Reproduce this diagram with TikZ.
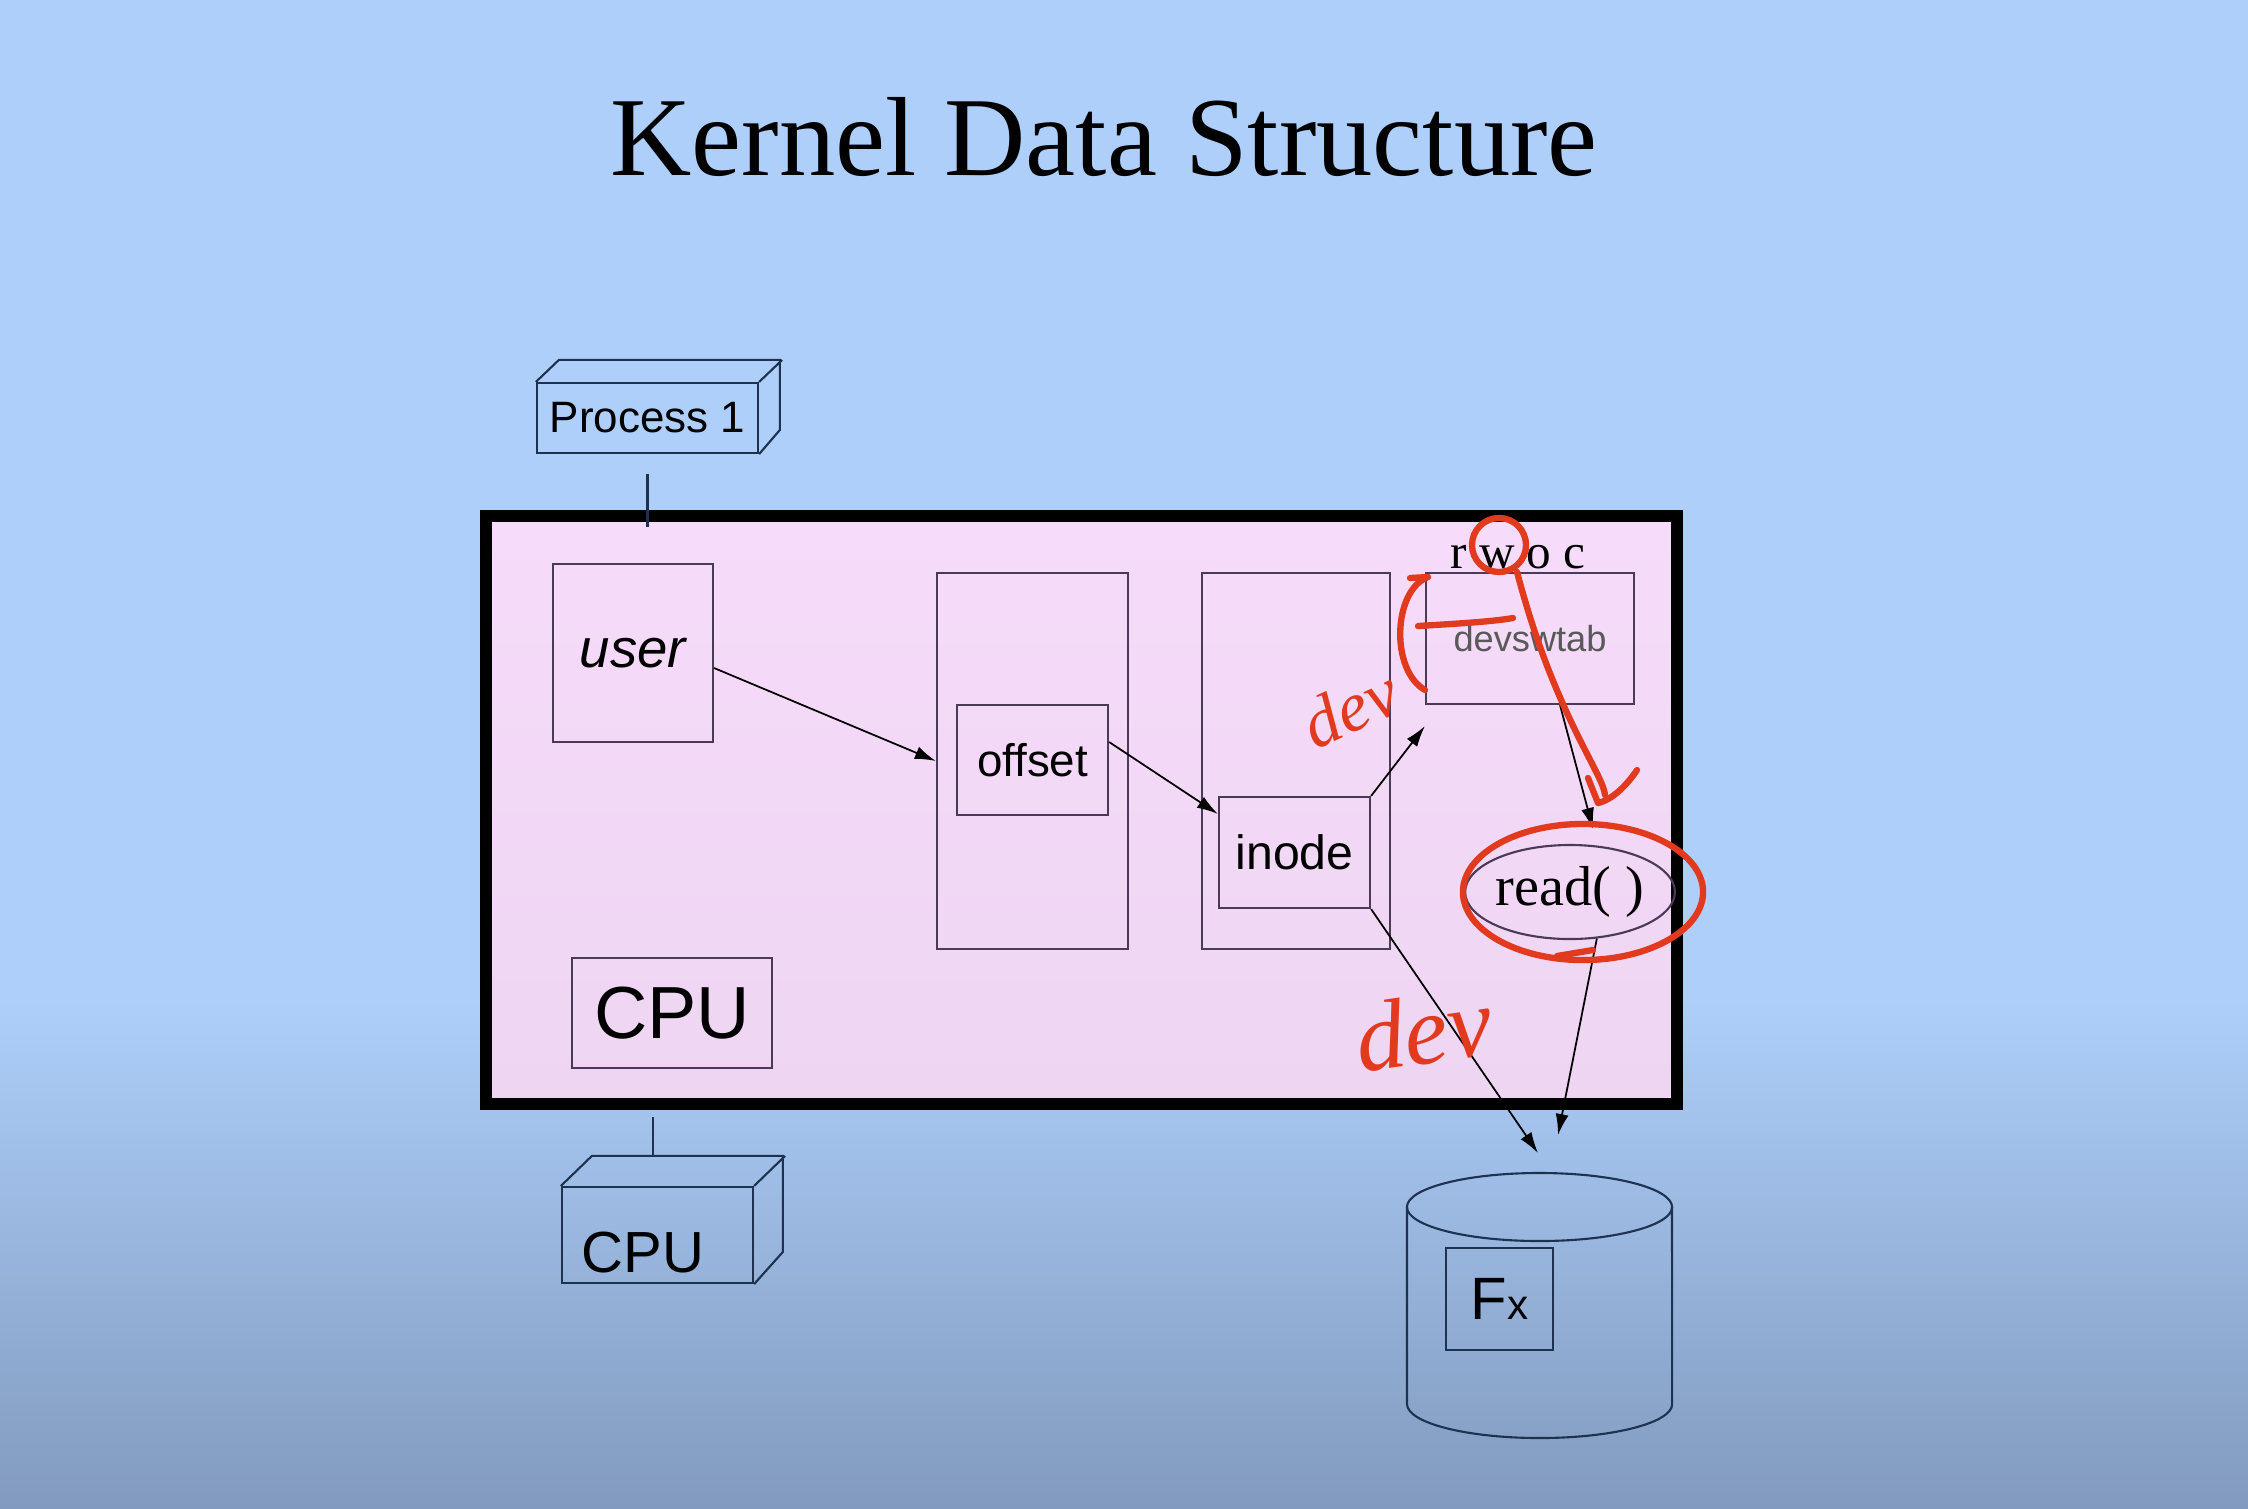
\documentclass[tikz,border=0pt]{standalone}
\usepackage{fontspec}
\setmainfont{Liberation Serif}
\setsansfont{Liberation Sans}
\usetikzlibrary{shapes,arrows.meta}

\definecolor{slidetop}{RGB}{173,207,250}
\definecolor{slidebot}{RGB}{130,154,190}
\definecolor{kernpink}{RGB}{246,220,250}
\definecolor{kernpinkdk}{RGB}{238,213,242}
\definecolor{boxline}{RGB}{72,58,88}
\definecolor{navy}{RGB}{30,50,80}
\definecolor{pen}{RGB}{226,58,30}

\tikzset{
  box/.style={draw=boxline, line width=0.6pt, rectangle, font=\sffamily},
  box3d/.style={draw=navy, line width=0.6pt, rectangle, font=\sffamily},
  link/.style={-{Latex[length=0.21cm,width=0.13cm]}, line width=0.5pt},
  ink/.style={draw=pen, line width=1.8pt, line cap=round, line join=round},
  inktext/.style={text=pen},
}

\begin{document}
\begin{tikzpicture}[x=0.01cm, y=-0.01cm]
\def \pdepth {23}
\def \cdepth {31}

\fill[slidetop] (0,0) rectangle (2248,1508);
\shade[top color=slidetop, bottom color=slidebot] (0,1000) rectangle (2248,1508);
\useasboundingbox (0,0) rectangle (2248,1508);

\node[font=\fontsize{32}{38}\selectfont, anchor=base] (title) at (1104,175) {Kernel Data Structure};

\node[draw=black, line width=0.12cm, top color=kernpink, bottom color=kernpinkdk,
  minimum width=11.905cm, minimum height=5.875cm, inner sep=0] (kernel) at (1081.75,810.25) {};

% process 1
\node[box3d, minimum width=2.21cm, minimum height=0.70cm, font=\sffamily\fontsize{12.5}{14}\selectfont] (proc) at (647.5,418) {Process 1};
\draw[navy, line width=0.6pt] (proc.north west) -- ++(\pdepth,-22) -- ++(221,0) -- ++(0,70) -- (proc.south east)
  (proc.north east) -- ++(\pdepth,-22);
\draw[navy, line width=0.6pt] ([yshift=-0.2cm]proc.south) -- ([yshift=-0.17cm]proc.south |- kernel.north);

\node[box, minimum width=1.60cm, minimum height=1.78cm, font=\sffamily\itshape\fontsize{15.5}{19}\selectfont] (user) at (633,653) {user};

\node[box, minimum width=1.91cm, minimum height=3.76cm] (filetab) at (1032.5,761) {};
\node[box, minimum width=1.51cm, minimum height=1.10cm, font=\sffamily\fontsize{13}{15}\selectfont] (offset) at (1032.5,760) {offset};
\node[box, minimum width=1.88cm, minimum height=3.76cm] (inodetab) at (1296,761) {};
\node[box, minimum width=1.51cm, minimum height=1.11cm, font=\sffamily\fontsize{13.7}{16}\selectfont] (inode) at (1294.5,852.5) {inode};
\node[box, minimum width=2.08cm, minimum height=1.31cm, font=\sffamily\fontsize{10.3}{12}\selectfont, text=black!65] (devsw) at (1530,638.5) {devswtab};
\node[font=\fontsize{14}{16}\selectfont, anchor=base] (modes) at (1518,568) {r w o c};
\node[draw=boxline, line width=0.6pt, ellipse, minimum width=2.04cm, minimum height=0.94cm, inner sep=0,
  font=\fontsize{16}{19}\selectfont] (read) at (1570,892) {read( )};

% cpu
\node[box, minimum width=2.00cm, minimum height=1.10cm, font=\sffamily\fontsize{21}{25}\selectfont] (cpu) at (672,1013) {CPU};
\node[box3d, inner xsep=0.2cm, inner ysep=0.11cm, text width=1.51cm, align=left, text height=0.74cm, text depth=0cm,
  font=\sffamily\fontsize{16.5}{19}\selectfont] (cpubox) at (657.5,1235) {CPU};
\draw[navy, line width=0.6pt] (cpubox.north west) -- ++(\cdepth,-30) -- ++(191,0) -- ++(0,96) -- (cpubox.south east)
  (cpubox.north east) -- ++(\cdepth,-30);
\draw[navy, line width=0.6pt] ([xshift=-0.045cm,yshift=-0.07cm]cpubox.north |- kernel.south) -- ([xshift=-0.045cm,yshift=0.3cm]cpubox.north);

% disk
\draw[navy, line width=0.6pt] (1407,1207) -- (1407,1404) arc[start angle=180, end angle=360, x radius=1.325cm, y radius=0.34cm] -- (1672,1207);
\draw[navy, line width=0.6pt] (1539.5,1207) ellipse [x radius=1.325cm, y radius=0.34cm];
\coordinate (disk) at (1539.5,1173);
\node[box3d, minimum width=1.07cm, minimum height=1.02cm, font=\sffamily\fontsize{17}{20}\selectfont] (fx) at (1499.5,1299) {F{\fontsize{12}{14}\selectfont x}};

\draw[link] ([yshift=-0.15cm]user.east) -- (filetab.west);
\draw[link] ([yshift=0.18cm]offset.east) -- ([yshift=-0.18cm]inode.north west);
\draw[link] (inode.north east) -- ([yshift=-0.21cm]devsw.south west);
\draw[link] ([xshift=0.3cm]devsw.south) -- ([xshift=0.23cm,yshift=0.15cm]read.north);
\draw[link] (inode.south east) -- ([xshift=-0.015cm,yshift=0.2cm]disk);
\draw[link] (read.-60) -- ([xshift=0.185cm,yshift=0.38cm]disk);

% pen marks
\draw[ink] (1499,545) ellipse [x radius=0.27cm, y radius=0.27cm];
\draw[ink] (1517,572) .. controls (1535,640) and (1555,690) .. (1580,740) .. controls (1595,770) and (1604,785) .. (1605,795);
\draw[ink] (1588,778) -- (1598,803) .. controls (1612,800) and (1627,785) .. (1637,770);
\draw[ink] (1418,626) .. controls (1450,624) and (1490,622) .. (1513,618);
\draw[ink] (1410,578) -- (1428,577) .. controls (1393,590) and (1390,670) .. (1425,690);
\draw[ink] (1583,892) ellipse [x radius=1.2cm, y radius=0.68cm];
\draw[ink] (1557,956) -- (1593,950);
\node[inktext, font=\itshape\fontsize{28}{30}\selectfont, rotate=8] (devlow) at (1423,1030) {dev};
\node[inktext, font=\itshape\fontsize{20}{22}\selectfont, rotate=25] (devhigh) at (1350,708) {dev};
\end{tikzpicture}
\end{document}
